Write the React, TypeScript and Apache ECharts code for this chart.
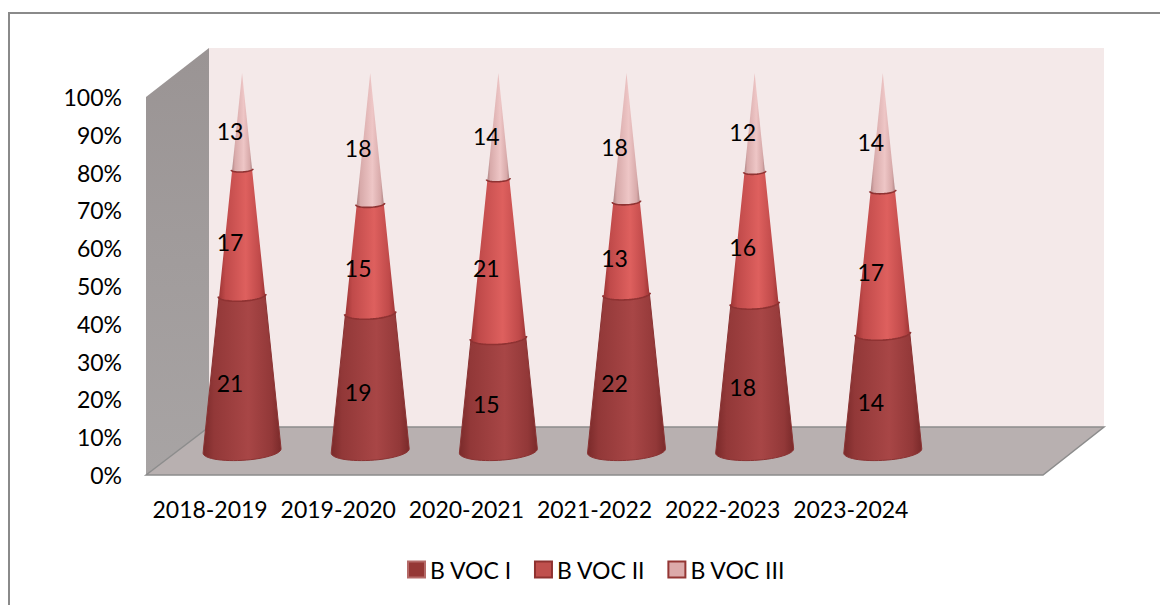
import React, { useEffect, useRef } from "react";
import * as echarts from "echarts";

const categories = ["2018-2019", "2019-2020", "2020-2021", "2021-2022", "2022-2023", "2023-2024", ""];
const bVocI = [21, 19, 15, 22, 18, 14];
const bVocII = [17, 15, 21, 13, 16, 17];
const bVocIII = [13, 18, 14, 18, 12, 14];
const seriesNames = ["B VOC I", "B VOC II", "B VOC III"];
const seriesValues = [bVocI, bVocII, bVocIII];
const FONT = "Lato, Carlito, sans-serif";
const FONT_SIZE = 23;

const palettes = [
  { edge: "#7a2a2a", soft: "#923838", mid: "#a84646", rim: "#7c2b2b", legend: "#953735", border: "#b56a68" },
  { edge: "#a03636", soft: "#c04a4a", mid: "#de605e", rim: "#8f3232", legend: "#c0504d", border: "#8f3230" },
  { edge: "#b08686", soft: "#d8aaaa", mid: "#eec6c6", rim: "#8f3232", legend: "#dcaaaa", border: "#943634" },
];

const DEPTH_X = 32;
const DEPTH_Y = 24;
const BASE_R = 39;
const MINOR = 0.24;
const TILT = -0.055;

function ringPoint(cx: number, cy: number, r: number, t: number) {
  const x = r * Math.cos(t);
  const y = r * MINOR * Math.sin(t);
  return [cx + x, cy + y + x * TILT];
}

function coneRender(seriesIdx: number) {
  return (params: any, api: any) => {
    const i = params.dataIndex;
    const total = bVocI[i] + bVocII[i] + bVocIII[i];
    let below = 0;
    for (let s = 0; s < seriesIdx; s++) below += seriesValues[s][i];
    const val = seriesValues[seriesIdx][i];
    const lowFrac = below / total;
    const highFrac = (below + val) / total;
    const low = api.coord([i, lowFrac * 100]);
    const high = api.coord([i, highFrac * 100]);
    const cx = low[0] + DEPTH_X;
    const yLow = low[1] - DEPTH_Y;
    const yHigh = high[1] - DEPTH_Y;
    const rLow = BASE_R * (1 - lowFrac);
    const rHigh = BASE_R * (1 - highFrac);
    const pts: number[][] = [];
    const N = 28;
    for (let k = 0; k <= N; k++) pts.push(ringPoint(cx, yLow, rLow, Math.PI - (Math.PI * k) / N));
    if (seriesIdx === 2) pts.push([cx, yHigh]);
    else for (let k = 0; k <= N; k++) pts.push(ringPoint(cx, yHigh, rHigh, (Math.PI * k) / N));
    const p = palettes[seriesIdx];
    const children: any[] = [
      {
        type: "polygon",
        shape: { points: pts },
        z2: 10 + seriesIdx,
        style: {
          fill: new echarts.graphic.LinearGradient(0, 0, 1, 0, [
            { offset: 0, color: p.edge },
            { offset: 0.14, color: p.soft },
            { offset: 0.58, color: p.mid },
            { offset: 0.88, color: p.soft },
            { offset: 1, color: p.edge },
          ]),
          stroke: seriesIdx === 0 ? "#8a3333" : "transparent",
          lineWidth: seriesIdx === 0 ? 1 : 0,
        },
      },
    ];
    if (seriesIdx > 0) {
      const rim: number[][] = [];
      for (let k = 0; k <= N; k++) rim.push(ringPoint(cx, yLow, rLow + 1, Math.PI - (Math.PI * k) / N));
      children.push({
        type: "polyline",
        shape: { points: rim },
        z2: 20,
        style: { stroke: p.rim, lineWidth: 1.6, fill: "none" },
      });
    }
    const midY = (yLow + yHigh) / 2;
    children.push({
      type: "text",
      z2: 40,
      style: {
        text: String(val),
        x: cx - 12,
        y: midY + 10,
        align: "center",
        verticalAlign: "middle",
        font: `${FONT_SIZE}px ${FONT}`,
        fill: "#000",
      },
    });
    return { type: "group", children };
  };
}

function wallsRender(params: any, api: any) {
  const o = api.coord([0, 0]);
  const t = api.coord([0, 100]);
  const sz = params.coordSys;
  const x0 = sz.x;
  const y0 = o[1];
  const y1 = t[1];
  const x1 = sz.x + sz.width;
  const dx = 63;
  const dxRight = 61;
  const dy = 48;
  return {
    type: "group",
    children: [
      {
        type: "polygon",
        shape: { points: [[x0 + dx, y1 - dy - 1], [x1 + dxRight, y1 - dy - 1], [x1 + dxRight, y0 - dy], [x0 + dx, y0 - dy]] },
        style: { fill: "#f4e9e9" },
      },
      {
        type: "polygon",
        shape: { points: [[x0, y1], [x0 + dx, y1 - dy - 1], [x0 + dx, y0 - dy], [x0, y0]] },
        style: {
          fill: new echarts.graphic.LinearGradient(0, 0, 0, 1, [
            { offset: 0, color: "#9a9494" },
            { offset: 1, color: "#a8a4a4" },
          ]),
        },
      },
      {
        type: "polygon",
        shape: { points: [[x0, y0], [x0 + dx, y0 - dy], [x1 + dxRight, y0 - dy], [x1, y0]] },
        style: { fill: "#b8b0b0", stroke: "#8c8c8c", lineWidth: 1.5 },
      },
    ],
  };
}

export default function App() {
  const ref = useRef<HTMLDivElement>(null);
  useEffect(() => {
    const chart = echarts.init(ref.current!, undefined, { renderer: "svg" });
    chart.setOption({
      animation: false,
      backgroundColor: "#ffffff",
      graphic: [
        {
          type: "polyline",
          shape: { points: [[9, 605], [9, 13], [1160, 13]] },
          style: { stroke: "#8a8a8a", lineWidth: 2, fill: "none" },
        },
      ],
      grid: { left: 146, top: 97, width: 897, height: 378 },
      xAxis: {
        type: "category",
        data: categories,
        axisLine: { show: false },
        axisTick: { show: false },
        axisLabel: { interval: 0, color: "#000", fontFamily: FONT, fontSize: FONT_SIZE, margin: 22 },
        splitLine: { show: false },
      },
      yAxis: {
        type: "value",
        min: 0,
        max: 100,
        interval: 10,
        axisLine: { show: false },
        axisTick: { show: false },
        splitLine: { show: false },
        axisLabel: { color: "#000", fontFamily: FONT, fontSize: FONT_SIZE, margin: 24, formatter: "{value}%" },
      },
      legend: {
        left: 402,
        top: 553,
        itemWidth: 17,
        itemHeight: 16,
        itemGap: 22,
        icon: "rect",
        data: seriesNames,
        textStyle: { color: "#000", fontFamily: FONT, fontSize: FONT_SIZE },
      },
      series: [
        {
          type: "custom",
          name: "walls",
          silent: true,
          renderItem: wallsRender,
          data: [[0, 0]],
          encode: { x: 0, y: 1 },
          z: 1,
        },
        ...seriesNames.map((name, s) => ({
          type: "custom",
          name,
          renderItem: coneRender(s),
          data: seriesValues[s].map((v, i) => [i, v]),
          encode: { x: 0, y: 1 },
          itemStyle: { color: palettes[s].legend, borderColor: palettes[s].border, borderWidth: 1.5 },
          z: 2,
        })),
      ],
    });
    return () => chart.dispose();
  }, []);
  return (
    <div
      ref={ref}
      style={{ position: "absolute", left: 0, top: 0, width: 1160, height: 605 }}
    />
  );
}
